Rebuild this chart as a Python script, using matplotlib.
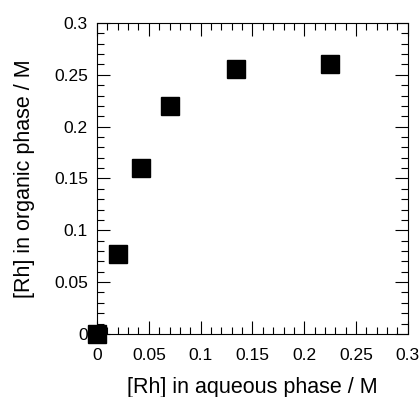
import matplotlib
matplotlib.use("Agg")
import matplotlib.pyplot as plt
from matplotlib.ticker import MultipleLocator

plt.rcParams['font.family'] = ['Liberation Sans', 'DejaVu Sans']

# Rh distribution data
rh_aqueous = [0.0, 0.020, 0.042, 0.070, 0.134, 0.225]
rh_organic = [0.0, 0.077, 0.160, 0.220, 0.256, 0.260]

fig = plt.figure(figsize=(4.2, 3.97), dpi=100)
ax = fig.add_axes([0.231, 0.159, 0.740, 0.783])

ax.plot(rh_aqueous, rh_organic, linestyle='none', marker='s', markersize=13.5,
        color='black', clip_on=False, zorder=5)

ax.set_xlim(0, 0.3)
ax.set_ylim(0, 0.3)

ax.xaxis.set_major_locator(MultipleLocator(0.05))
ax.xaxis.set_minor_locator(MultipleLocator(0.01))
ax.yaxis.set_major_locator(MultipleLocator(0.05))
ax.yaxis.set_minor_locator(MultipleLocator(0.01))

def fmt(v, pos):
    return f"{v:.2f}".rstrip('0').rstrip('.')

ax.xaxis.set_major_formatter(plt.FuncFormatter(fmt))
ax.yaxis.set_major_formatter(plt.FuncFormatter(fmt))

ax.tick_params(which='both', direction='in', top=True, right=True, labelsize=12.5)
ax.tick_params(which='major', length=9.5, width=0.8)
ax.tick_params(which='minor', length=5, width=0.8)
ax.tick_params(axis='x', pad=10.5)
ax.tick_params(axis='y', pad=6.5)

for spine in ax.spines.values():
    spine.set_linewidth(0.8)

ax.set_xlabel("[Rh] in aqueous phase / M", fontsize=15.5)
ax.set_ylabel("[Rh] in organic phase / M", fontsize=15.5)
ax.xaxis.set_label_coords(0.5, -0.138)
ax.yaxis.set_label_coords(-0.20, 0.5)

fig.savefig("out.png", dpi=100)
